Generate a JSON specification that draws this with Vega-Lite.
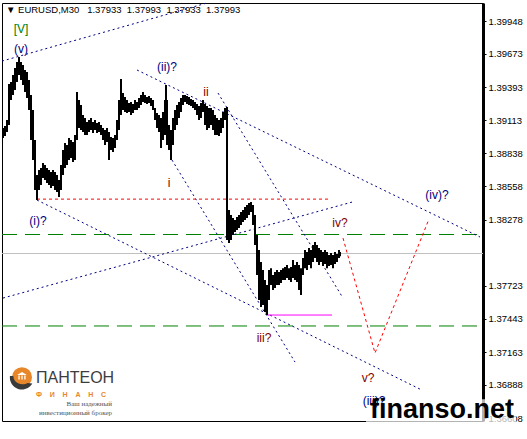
{
  "$schema": "https://vega.github.io/schema/vega-lite/v6.json",
  "width": 481,
  "height": 418,
  "autosize": {"type": "none"},
  "padding": {"left": 2, "top": 3, "right": 44, "bottom": 18},
  "background": "white",
  "config": {"font": "Liberation Sans", "view": {"stroke": "black", "strokeWidth": 1}},
  "datasets": {
    "levels": [
      {"bar": 2, "bar2": 483, "price": 1.37993, "kind": "bid"},
      {"bar": 2, "bar2": 483, "price": 1.38153, "kind": "level"},
      {"bar": 2, "bar2": 483, "price": 1.37383, "kind": "level"}
    ],
    "channels": [
      {"bar": 2, "price": 1.39613, "bar2": 207, "price2": 1.40102},
      {"bar": 3, "price": 1.37618, "bar2": 352, "price2": 1.38426},
      {"bar": 37, "price": 1.38443, "bar2": 422, "price2": 1.36843},
      {"bar": 137, "price": 1.39538, "bar2": 480, "price2": 1.38132},
      {"bar": 218, "price": 1.39344, "bar2": 343, "price2": 1.37618},
      {"bar": 172, "price": 1.38780, "bar2": 295, "price2": 1.37079}
    ],
    "redlevel": [{"bar": 37, "price": 1.38451, "bar2": 328, "price2": 1.38451}],
    "magenta": [{"bar": 267, "price": 1.37475, "bar2": 332, "price2": 1.37475}],
    "projection": [
      {"bar": 343, "price": 1.38123},
      {"bar": 375, "price": 1.37155},
      {"bar": 429, "price": 1.38283}
    ],
    "bars": [
      {"bar":3,"price":1.38965,"price2":1.39049},{"bar":5,"price":1.38982,"price2":1.39066},{"bar":7,"price":1.39016,"price2":1.39117},
      {"bar":9,"price":1.39075,"price2":1.39420},{"bar":11,"price":1.39285,"price2":1.39437},{"bar":13,"price":1.39327,"price2":1.39496},
      {"bar":15,"price":1.39369,"price2":1.39554},{"bar":17,"price":1.39437,"price2":1.39605},{"bar":19,"price":1.39496,"price2":1.39647},
      {"bar":21,"price":1.39453,"price2":1.39605},{"bar":23,"price":1.39411,"price2":1.39580},{"bar":25,"price":1.39352,"price2":1.39538},
      {"bar":27,"price":1.39302,"price2":1.39521},{"bar":29,"price":1.39201,"price2":1.39453},{"bar":31,"price":1.38948,"price2":1.39327},
      {"bar":33,"price":1.38780,"price2":1.39201},{"bar":35,"price":1.38527,"price2":1.38948},{"bar":37,"price":1.38443,"price2":1.38654},
      {"bar":39,"price":1.38527,"price2":1.38696},{"bar":41,"price":1.38569,"price2":1.38712},{"bar":43,"price":1.38628,"price2":1.38755},
      {"bar":45,"price":1.38611,"price2":1.38738},{"bar":47,"price":1.38586,"price2":1.38712},{"bar":49,"price":1.38569,"price2":1.38696},
      {"bar":51,"price":1.38544,"price2":1.38679},{"bar":53,"price":1.38561,"price2":1.38696},{"bar":55,"price":1.38527,"price2":1.38679},
      {"bar":57,"price":1.38510,"price2":1.38654},{"bar":59,"price":1.38468,"price2":1.38611},{"bar":61,"price":1.38527,"price2":1.38738},
      {"bar":63,"price":1.38654,"price2":1.38864},{"bar":65,"price":1.38712,"price2":1.38923},{"bar":67,"price":1.38738,"price2":1.38906},
      {"bar":69,"price":1.38780,"price2":1.38965},{"bar":71,"price":1.38797,"price2":1.38948},{"bar":73,"price":1.38763,"price2":1.38931},
      {"bar":75,"price":1.38780,"price2":1.38990},{"bar":77,"price":1.38948,"price2":1.39352},{"bar":79,"price":1.39049,"price2":1.39285},
      {"bar":81,"price":1.39032,"price2":1.39243},{"bar":83,"price":1.39016,"price2":1.39159},{"bar":85,"price":1.38990,"price2":1.39133},
      {"bar":87,"price":1.38990,"price2":1.39100},{"bar":89,"price":1.39016,"price2":1.39117},{"bar":91,"price":1.39032,"price2":1.39133},
      {"bar":93,"price":1.39007,"price2":1.39100},{"bar":95,"price":1.39032,"price2":1.39117},{"bar":97,"price":1.39007,"price2":1.39091},
      {"bar":99,"price":1.39016,"price2":1.39100},{"bar":101,"price":1.38990,"price2":1.39075},{"bar":103,"price":1.38948,"price2":1.39049},
      {"bar":105,"price":1.38906,"price2":1.39032},{"bar":107,"price":1.38931,"price2":1.39049},{"bar":109,"price":1.38780,"price2":1.39016},
      {"bar":111,"price":1.38864,"price2":1.38974},{"bar":113,"price":1.38847,"price2":1.38965},{"bar":115,"price":1.38881,"price2":1.38990},
      {"bar":117,"price":1.38948,"price2":1.39117},{"bar":119,"price":1.39032,"price2":1.39285},{"bar":121,"price":1.39159,"price2":1.39462},
      {"bar":123,"price":1.39201,"price2":1.39344},{"bar":125,"price":1.39184,"price2":1.39310},{"bar":127,"price":1.39176,"price2":1.39285},
      {"bar":129,"price":1.39184,"price2":1.39260},{"bar":131,"price":1.39159,"price2":1.39268},{"bar":133,"price":1.39176,"price2":1.39251},
      {"bar":135,"price":1.39201,"price2":1.39285},{"bar":137,"price":1.39201,"price2":1.39268},{"bar":139,"price":1.39218,"price2":1.39302},
      {"bar":141,"price":1.39243,"price2":1.39327},{"bar":143,"price":1.39268,"price2":1.39352},{"bar":145,"price":1.39260,"price2":1.39327},
      {"bar":147,"price":1.39251,"price2":1.39310},{"bar":149,"price":1.39260,"price2":1.39319},{"bar":151,"price":1.39234,"price2":1.39302},
      {"bar":153,"price":1.39201,"price2":1.39285},{"bar":155,"price":1.39117,"price2":1.39218},{"bar":157,"price":1.39049,"price2":1.39176},
      {"bar":159,"price":1.39016,"price2":1.39159},{"bar":161,"price":1.38881,"price2":1.39133},{"bar":163,"price":1.38948,"price2":1.39184},
      {"bar":165,"price":1.38990,"price2":1.39285},{"bar":166,"price":1.39032,"price2":1.39411},{"bar":167,"price":1.38906,"price2":1.39285},
      {"bar":169,"price":1.38864,"price2":1.39075},{"bar":171,"price":1.38780,"price2":1.39032},{"bar":173,"price":1.38906,"price2":1.39133},
      {"bar":175,"price":1.39032,"price2":1.39201},{"bar":177,"price":1.39075,"price2":1.39243},{"bar":179,"price":1.39133,"price2":1.39268},
      {"bar":181,"price":1.39184,"price2":1.39302},{"bar":183,"price":1.39243,"price2":1.39327},{"bar":185,"price":1.39268,"price2":1.39327},
      {"bar":187,"price":1.39251,"price2":1.39319},{"bar":189,"price":1.39243,"price2":1.39310},{"bar":191,"price":1.39234,"price2":1.39293},
      {"bar":193,"price":1.39218,"price2":1.39285},{"bar":195,"price":1.39201,"price2":1.39268},{"bar":197,"price":1.39159,"price2":1.39251},
      {"bar":199,"price":1.39117,"price2":1.39234},{"bar":201,"price":1.39133,"price2":1.39260},{"bar":203,"price":1.39184,"price2":1.39285},
      {"bar":205,"price":1.39075,"price2":1.39251},{"bar":207,"price":1.39032,"price2":1.39234},{"bar":209,"price":1.39049,"price2":1.39218},
      {"bar":211,"price":1.39075,"price2":1.39218},{"bar":213,"price":1.39032,"price2":1.39201},{"bar":215,"price":1.38990,"price2":1.39159},
      {"bar":217,"price":1.38990,"price2":1.39133},{"bar":219,"price":1.38982,"price2":1.39117},{"bar":221,"price":1.39007,"price2":1.39133},
      {"bar":223,"price":1.39049,"price2":1.39184},{"bar":225,"price":1.39117,"price2":1.39218},{"bar":227,"price":1.38106,"price2":1.39226},
      {"bar":229,"price":1.38081,"price2":1.38359},{"bar":231,"price":1.38106,"price2":1.38317},{"bar":233,"price":1.38148,"price2":1.38291},
      {"bar":235,"price":1.38174,"price2":1.38275},{"bar":237,"price":1.38190,"price2":1.38300},{"bar":239,"price":1.38207,"price2":1.38317},
      {"bar":241,"price":1.38233,"price2":1.38342},{"bar":243,"price":1.38258,"price2":1.38359},{"bar":245,"price":1.38275,"price2":1.38384},
      {"bar":247,"price":1.38291,"price2":1.38401},{"bar":249,"price":1.38317,"price2":1.38418},{"bar":251,"price":1.38342,"price2":1.38426},
      {"bar":253,"price":1.38233,"price2":1.38401},{"bar":255,"price":1.38064,"price2":1.38317},{"bar":257,"price":1.37812,"price2":1.38148},
      {"bar":259,"price":1.37601,"price2":1.38022},{"bar":261,"price":1.37542,"price2":1.37921},{"bar":263,"price":1.37559,"price2":1.37854},
      {"bar":265,"price":1.37500,"price2":1.37769},{"bar":267,"price":1.37475,"price2":1.37727},{"bar":269,"price":1.37601,"price2":1.37854},
      {"bar":271,"price":1.37727,"price2":1.37870},{"bar":273,"price":1.37685,"price2":1.37812},{"bar":275,"price":1.37702,"price2":1.37837},
      {"bar":277,"price":1.37727,"price2":1.37854},{"bar":279,"price":1.37727,"price2":1.37837},{"bar":281,"price":1.37744,"price2":1.37854},
      {"bar":283,"price":1.37769,"price2":1.37870},{"bar":285,"price":1.37769,"price2":1.37879},{"bar":287,"price":1.37786,"price2":1.37896},
      {"bar":289,"price":1.37769,"price2":1.37870},{"bar":291,"price":1.37753,"price2":1.37879},{"bar":293,"price":1.37786,"price2":1.37938},
      {"bar":295,"price":1.37769,"price2":1.37896},{"bar":297,"price":1.37753,"price2":1.37921},{"bar":299,"price":1.37685,"price2":1.37896},
      {"bar":301,"price":1.37643,"price2":1.37870},{"bar":303,"price":1.37812,"price2":1.37955},{"bar":305,"price":1.37870,"price2":1.38022},
      {"bar":307,"price":1.37854,"price2":1.38005},{"bar":309,"price":1.37896,"price2":1.38039},{"bar":311,"price":1.37870,"price2":1.38022},
      {"bar":313,"price":1.37921,"price2":1.38064},{"bar":315,"price":1.37955,"price2":1.38089},{"bar":317,"price":1.37921,"price2":1.38064},
      {"bar":319,"price":1.37896,"price2":1.38039},{"bar":321,"price":1.37921,"price2":1.38022},{"bar":323,"price":1.37887,"price2":1.38005},
      {"bar":325,"price":1.37904,"price2":1.38022},{"bar":327,"price":1.37870,"price2":1.38005},{"bar":329,"price":1.37887,"price2":1.37980},
      {"bar":331,"price":1.37896,"price2":1.37997},{"bar":333,"price":1.37870,"price2":1.37980},{"bar":335,"price":1.37904,"price2":1.38005},
      {"bar":337,"price":1.37921,"price2":1.37988},{"bar":339,"price":1.37955,"price2":1.38022},{"bar":340,"price":1.37971,"price2":1.38005}
    ],
    "labels": [
      {"bar": 21, "price": 1.39883, "label": "[V]", "degree": "primary"},
      {"bar": 21, "price": 1.39714, "label": "(v)", "degree": "intermediate"},
      {"bar": 167, "price": 1.39563, "label": "(ii)?", "degree": "intermediate"},
      {"bar": 206, "price": 1.39352, "label": "ii", "degree": "minor"},
      {"bar": 169, "price": 1.38586, "label": "i", "degree": "minor"},
      {"bar": 38, "price": 1.38266, "label": "(i)?", "degree": "intermediate"},
      {"bar": 264, "price": 1.37281, "label": "iii?", "degree": "minor"},
      {"bar": 340, "price": 1.38249, "label": "iv?", "degree": "minor"},
      {"bar": 437, "price": 1.38485, "label": "(iv)?", "degree": "intermediate"},
      {"bar": 368, "price": 1.36944, "label": "v?", "degree": "minor"},
      {"bar": 374, "price": 1.36751, "label": "(iii)?", "degree": "intermediate"}
    ],
    "header": [
      {"bar": 6, "price": 1.40043, "text": "▼ EURUSD,M30\u00a0\u00a0 1.37933\u00a0 1.37993\u00a0 1.37933\u00a0 1.37993"}
    ],
    "logo": [
      {"bar": 22, "price": 1.36952, "part": "icon", "text": ""},
      {"bar": 36, "price": 1.36944, "part": "name", "text": "ПАНТЕОН"},
      {"bar": 36, "price": 1.36805, "part": "sub", "text": "Ф\u00a0\u00a0\u00a0 И\u00a0\u00a0\u00a0 Н\u00a0\u00a0\u00a0 А\u00a0\u00a0\u00a0 Н\u00a0\u00a0\u00a0 С"},
      {"bar": 112, "price": 1.36725, "part": "slogan", "text": "Ваш надежный"},
      {"bar": 112, "price": 1.36652, "part": "slogan", "text": "инвестиционный брокер"}
    ],
    "watermark": [{"bar": 370, "price": 1.36607, "text": "finanso.net"}],
    "tags": [
      {"price": 1.38153, "kind": "level"},
      {"price": 1.37993, "kind": "bid"},
      {"price": 1.37383, "kind": "level"}
    ]
  },
  "encoding": {
    "x": {
      "field": "bar", "type": "quantitative", "title": null,
      "scale": {"domain": [2, 483], "nice": false, "zero": false},
      "axis": {
        "values": [2, 67, 131, 195, 259, 323],
        "labelExpr": "datum.value==2?'13 Mar 2014':datum.value==67?'14 Mar 11:30':datum.value==131?'17 Mar 20:30':datum.value==195?'19 Mar 04:30':datum.value==259?'20 Mar 12:30':'21 Mar 20:30'",
        "labelAlign": "left", "labelDx": 1, "tickSize": 4, "tickColor": "black", "domain": false, "grid": false,
        "labelFontSize": 9.5, "labelColor": "black", "labelPadding": 1, "labelOverlap": false, "labelBound": false, "labelFlush": false, "title": null
      }
    },
    "y": {
      "field": "price", "type": "quantitative", "title": null,
      "scale": {"domain": [1.36583, 1.40102], "nice": false, "zero": false},
      "axis": {
        "orient": "right",
        "values": [1.39948, 1.39673, 1.39393, 1.39113, 1.38838, 1.38558, 1.38278, 1.37723, 1.37443, 1.37163, 1.36888, 1.36608],
        "format": ".5f", "tickSize": 3, "tickColor": "black", "labelPadding": 2, "domainColor": "black", "domainWidth": 3,
        "labelFontSize": 9.5, "labelColor": "black", "grid": false, "labelOverlap": false, "labelBound": false, "labelFlush": false, "title": null
      }
    }
  },
  "layer": [
    {
      "data": {"name": "levels"},
      "transform": [{"filter": "datum.kind == 'bid'"}],
      "mark": {"type": "rule", "color": "#c0c0c0", "strokeWidth": 1},
      "encoding": {"x2": {"field": "bar2"}}
    },
    {
      "data": {"name": "levels"},
      "transform": [{"filter": "datum.kind == 'level'"}],
      "mark": {"type": "rule", "color": "#008000", "strokeWidth": 1, "strokeDash": [15, 8]},
      "encoding": {"x2": {"field": "bar2"}}
    },
    {
      "data": {"name": "channels"},
      "mark": {"type": "rule", "color": "#000080", "strokeWidth": 1, "strokeDash": [2, 3]},
      "encoding": {"x2": {"field": "bar2"}, "y2": {"field": "price2"}}
    },
    {
      "data": {"name": "redlevel"},
      "mark": {"type": "rule", "color": "#ff0000", "strokeWidth": 1, "strokeDash": [3, 3]},
      "encoding": {"x2": {"field": "bar2"}, "y2": {"field": "price2"}}
    },
    {
      "data": {"name": "magenta"},
      "mark": {"type": "rule", "color": "#ff00ff", "strokeWidth": 1},
      "encoding": {"x2": {"field": "bar2"}, "y2": {"field": "price2"}}
    },
    {
      "data": {"name": "projection"},
      "mark": {"type": "line", "color": "#ff0000", "strokeWidth": 1, "strokeDash": [3, 3]},
      "encoding": {}
    },
    {
      "data": {"name": "bars"},
      "mark": {"type": "rule", "color": "black", "strokeWidth": 2},
      "encoding": {"y2": {"field": "price2"}}
    },
    {
      "data": {"name": "header"},
      "mark": {"type": "text", "fontSize": 9.5, "align": "left", "baseline": "middle", "color": "black"},
      "encoding": {"text": {"field": "text"}}
    },
    {
      "data": {"name": "logo"},
      "transform": [{"filter": "datum.part == 'icon'"}],
      "mark": {"type": "point", "shape": "circle", "filled": true, "size": 400, "color": "#e8872a", "opacity": 1}
    },
    {
      "data": {"name": "logo"},
      "transform": [{"filter": "datum.part == 'icon'"}],
      "mark": {"type": "point", "shape": "M -1.05 -0.1 A 1.05 1.05 0 0 0 0.9 0.55 L 0.5 0.5 A 0.8 0.7 0 0 1 -0.75 -0.1 Z", "filled": true, "size": 530, "color": "#3a3a3a", "opacity": 1}
    },
    {
      "data": {"name": "logo"},
      "transform": [{"filter": "datum.part == 'icon'"}],
      "mark": {"type": "point", "shape": "M -0.75 -0.35 L 0 -0.8 L 0.75 -0.35 Z M -0.55 -0.25 L -0.35 -0.25 L -0.35 0.35 L -0.55 0.35 Z M -0.1 -0.25 L 0.1 -0.25 L 0.1 0.35 L -0.1 0.35 Z M 0.35 -0.25 L 0.55 -0.25 L 0.55 0.35 L 0.35 0.35 Z", "filled": true, "size": 170, "color": "white", "opacity": 1}
    },
    {
      "data": {"name": "logo"},
      "transform": [{"filter": "datum.part == 'name'"}],
      "mark": {"type": "text", "fontSize": 16, "align": "left", "baseline": "middle", "color": "#3d3d3d"},
      "encoding": {"text": {"field": "text"}}
    },
    {
      "data": {"name": "logo"},
      "transform": [{"filter": "datum.part == 'sub'"}],
      "mark": {"type": "text", "fontSize": 7, "fontWeight": "bold", "align": "left", "baseline": "middle", "color": "#e8872a"},
      "encoding": {"text": {"field": "text"}}
    },
    {
      "data": {"name": "logo"},
      "transform": [{"filter": "datum.part == 'slogan'"}],
      "mark": {"type": "text", "font": "Liberation Serif", "fontSize": 7, "align": "right", "baseline": "middle", "color": "#555555"},
      "encoding": {"text": {"field": "text"}}
    },
    {
      "data": {"name": "watermark"},
      "mark": {"type": "rect", "color": "white", "opacity": 0.7, "xOffset": -4, "x2Offset": 146, "yOffset": -19, "y2Offset": 8},
      "encoding": {"x2": {"field": "bar"}, "y2": {"field": "price"}}
    },
    {
      "data": {"name": "labels"},
      "mark": {"type": "text", "fontSize": 12, "align": "center", "baseline": "middle"},
      "encoding": {
        "text": {"field": "label"},
        "color": {"field": "degree", "type": "nominal", "legend": null,
          "scale": {"domain": ["primary", "intermediate", "minor"], "range": ["#008000", "#000080", "#800000"]}}
      }
    },
    {
      "data": {"name": "watermark"},
      "mark": {"type": "text", "fontSize": 27, "fontWeight": "bold", "align": "left", "baseline": "alphabetic", "color": "black"},
      "encoding": {"text": {"field": "text"}}
    },
    {
      "data": {"name": "tags"},
      "transform": [{"filter": "datum.kind == 'level'"}],
      "mark": {"type": "rect", "color": "#008000", "yOffset": -8, "y2Offset": 8},
      "encoding": {
        "x": {"datum": 484, "type": "quantitative", "scale": {"domain": [2, 483], "nice": false, "zero": false}, "axis": null},
        "x2": {"datum": 526},
        "y2": {"field": "price"}
      }
    },
    {
      "data": {"name": "tags"},
      "transform": [{"filter": "datum.kind == 'bid'"}],
      "mark": {"type": "rect", "color": "black", "yOffset": -8, "y2Offset": 8},
      "encoding": {
        "x": {"datum": 484, "type": "quantitative", "scale": {"domain": [2, 483], "nice": false, "zero": false}, "axis": null},
        "x2": {"datum": 526},
        "y2": {"field": "price"}
      }
    },
    {
      "data": {"name": "tags"},
      "mark": {"type": "text", "color": "white", "fontSize": 9.5, "align": "center", "baseline": "middle"},
      "encoding": {
        "x": {"datum": 505, "type": "quantitative", "scale": {"domain": [2, 483], "nice": false, "zero": false}, "axis": null},
        "text": {"field": "price", "type": "quantitative", "format": ".5f"}
      }
    }
  ]
}
